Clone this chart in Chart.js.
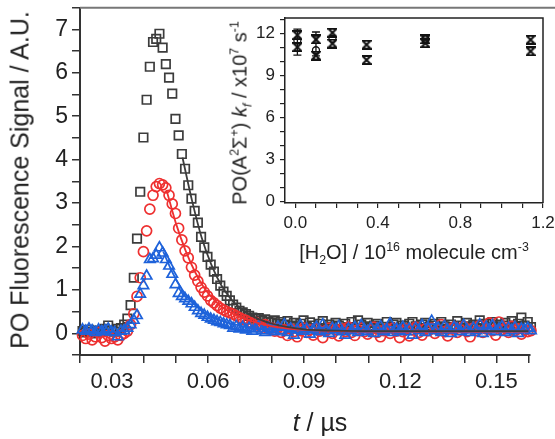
<!DOCTYPE html>
<html>
<head>
<meta charset="utf-8">
<script src="https://cdn.jsdelivr.net/npm/chart.js@4.4.1/dist/chart.umd.min.js"></script>
<style>
  html, body { margin: 0; padding: 0; background: #fff; }
  #wrap { position: relative; width: 555px; height: 439px; font-family: Arial, "Liberation Sans", sans-serif; color: #222; }
  #main { position: absolute; left: 0; top: 0; }
  #inset { position: absolute; left: 220px; top: 0; }
  .lbl { position: absolute; white-space: nowrap; transform: translate(-50%, -50%); }
  .rot { transform: translate(-50%, -50%) rotate(-90deg); }
  sup, sub { font-size: 62%; line-height: 0; }
</style>
</head>
<body>
<div id="wrap">
  <canvas id="main" width="555" height="439"></canvas>
  <canvas id="inset" width="335" height="270"></canvas>
  <div class="lbl rot" style="left:20px; top:180px; font-size:25px;">PO Fluorescence Signal / A.U.</div>
  <div class="lbl" style="left:320px; top:422px; font-size:25px;"><i>t</i> / µs</div>
  <div class="lbl" style="left:414px; top:252px; font-size:20px;">[H<sub>2</sub>O] / 10<sup>16</sup> molecule cm<sup>-3</sup></div>
  <div class="lbl rot" style="left:240px; top:113px; font-size:20px;">PO(A<sup>2</sup>Σ<sup>+</sup>) <i>k<sub>f</sub></i> / x10<sup>7</sup> s<sup>-1</sup></div>
</div>
<script>
// time axis (µs) shared by the three traces
const times = [
  0.0208, 0.0218, 0.0228, 0.0238, 0.0248, 0.0258, 0.0268, 0.0278, 0.0288, 0.0298,
  0.0308, 0.0318, 0.0328, 0.0338, 0.0348, 0.0358, 0.0368, 0.0378, 0.0388, 0.0398,
  0.0408, 0.0418, 0.0428, 0.0438, 0.0448, 0.0458, 0.0468, 0.0478, 0.0488, 0.0498,
  0.0508, 0.0518, 0.0528, 0.0538, 0.0548, 0.0558, 0.0568, 0.0578, 0.0588, 0.0598,
  0.0608, 0.0618, 0.0628, 0.0638, 0.0648, 0.0658, 0.0668, 0.0678, 0.0688, 0.0698,
  0.0708, 0.0718, 0.0728, 0.0738, 0.0748, 0.0758, 0.0768, 0.0778, 0.0788, 0.0798,
  0.0808, 0.0818, 0.0828, 0.0838, 0.0848, 0.0858, 0.0868, 0.0878, 0.0888, 0.0898,
  0.0908, 0.0918, 0.0928, 0.0938, 0.0948, 0.0958, 0.0968, 0.0978, 0.0988, 0.0998,
  0.1008, 0.1018, 0.1028, 0.1038, 0.1048, 0.1058, 0.1068, 0.1078, 0.1088, 0.1098,
  0.1108, 0.1118, 0.1128, 0.1138, 0.1148, 0.1158, 0.1168, 0.1178, 0.1188, 0.1198,
  0.1208, 0.1218, 0.1228, 0.1238, 0.1248, 0.1258, 0.1268, 0.1278, 0.1288, 0.1298,
  0.1308, 0.1318, 0.1328, 0.1338, 0.1348, 0.1358, 0.1368, 0.1378, 0.1388, 0.1398,
  0.1408, 0.1418, 0.1428, 0.1438, 0.1448, 0.1458, 0.1468, 0.1478, 0.1488, 0.1498,
  0.1508, 0.1518, 0.1528, 0.1538, 0.1548, 0.1558, 0.1568, 0.1578, 0.1588, 0.1598,
  0.1608
];

// black squares
const sigBlack = [
  0.05, 0.02, 0.08, 0.03, 0.00, 0.06, 0.04, 0.10, 0.18, 0.06,
  0.04, 0.10, 0.12, 0.20, 0.34, 0.65, 1.28, 2.18, 3.26, 4.51,
  5.38, 6.14, 6.71, 6.78, 6.90, 6.58, 6.20, 5.89, 5.52, 4.94,
  4.56, 4.13, 3.79, 3.41, 3.10, 2.82, 2.55, 2.22, 1.98, 1.76,
  1.58, 1.42, 1.25, 1.10, 0.96, 0.86, 0.76, 0.66, 0.59, 0.52,
  0.48, 0.44, 0.40, 0.36, 0.34, 0.35, 0.30, 0.32, 0.27, 0.25,
  0.30, 0.22, 0.26, 0.20, 0.28, 0.18, 0.24, 0.16, 0.22, 0.30,
  0.14, 0.25, 0.18, 0.12, 0.22, 0.28, 0.12, 0.20, 0.15, 0.24,
  0.18, 0.10, 0.22, 0.14, 0.26, 0.12, 0.30, 0.20, 0.16, 0.24,
  0.12, 0.18, 0.22, 0.10, 0.15, 0.26, 0.14, 0.20, 0.24, 0.12,
  0.18, 0.10, 0.22, 0.26, 0.16, 0.12, 0.20, 0.24, 0.14, 0.18,
  0.22, 0.12, 0.26, 0.16, 0.10, 0.20, 0.14, 0.28, 0.18, 0.12,
  0.24, 0.16, 0.20, 0.12, 0.30, 0.18, 0.22, 0.14, 0.26, 0.16,
  0.20, 0.12, 0.24, 0.18, 0.28, 0.14, 0.22, 0.36, 0.18, 0.26,
  0.14
];

// red circles
const sigRed = [
  -0.05, -0.12, -0.02, -0.15, -0.08, 0.02, -0.10, -0.18, -0.05, -0.12,
  -0.08, -0.15, -0.05, 0.00, 0.05, 0.20, 0.45, 0.85, 1.28, 1.88,
  2.36, 2.86, 3.18, 3.38, 3.45, 3.42, 3.35, 3.18, 2.98, 2.76,
  2.42, 2.15, 1.90, 1.74, 1.52, 1.34, 1.20, 1.06, 0.95, 0.86,
  0.76, 0.70, 0.64, 0.58, 0.54, 0.50, 0.47, 0.44, 0.40, 0.36,
  0.32, 0.30, 0.26, 0.22, 0.25, 0.18, 0.14, 0.20, 0.10, 0.12,
  0.05, 0.12, 0.02, 0.08, -0.05, 0.10, 0.04, -0.08, 0.06, 0.12,
  0.02, 0.08, -0.04, 0.10, 0.05, -0.10, 0.06, 0.12, 0.00, 0.08,
  -0.06, 0.10, 0.04, 0.14, 0.02, -0.05, 0.08, 0.12, 0.04, -0.02,
  0.08, 0.14, 0.02, -0.08, 0.06, 0.10, 0.00, 0.12, 0.05, -0.10,
  0.04, 0.10, -0.06, 0.08, 0.14, 0.02, -0.04, 0.10, 0.06, 0.12,
  0.00, 0.08, 0.20, 0.04, -0.06, 0.10, 0.14, 0.02, 0.08, 0.16,
  0.04, -0.08, 0.12, 0.06, 0.18, 0.02, 0.10, 0.24, 0.06, -0.04,
  0.26, 0.08, 0.12, 0.02, 0.16, 0.06, 0.10, -0.02, 0.08, 0.04,
  0.06
];

// blue triangles
const sigBlue = [
  0.08, 0.05, 0.10, 0.06, 0.02, 0.08, 0.04, 0.06, 0.10, 0.03,
  0.02, -0.08, 0.05, 0.06, 0.12, 0.20, 0.30, 0.41, 0.90, 1.10,
  1.32, 1.70, 1.72, 1.80, 1.97, 1.85, 1.70, 1.55, 1.36, 1.12,
  0.92, 0.85, 0.80, 0.74, 0.68, 0.60, 0.52, 0.46, 0.42, 0.37,
  0.33, 0.30, 0.27, 0.25, 0.22, 0.20, 0.18, 0.12, 0.16, 0.10,
  0.14, 0.08, 0.12, 0.05, 0.10, 0.16, 0.06, 0.02, 0.12, 0.08,
  0.04, 0.14, 0.06, 0.20, 0.02, 0.10, -0.04, 0.08, 0.18, 0.05,
  0.10, -0.02, 0.08, 0.14, 0.04, 0.20, 0.06, 0.00, 0.12, 0.08,
  0.16, 0.04, -0.04, 0.10, 0.06, 0.14, 0.02, 0.18, 0.08, 0.04,
  0.12, 0.00, 0.10, 0.16, 0.04, 0.08, 0.22, 0.02, 0.10, 0.06,
  0.14, 0.04, 0.10, -0.04, 0.12, 0.06, 0.18, 0.02, 0.10, 0.28,
  0.06, 0.12, 0.02, 0.16, 0.08, 0.00, 0.14, 0.10, 0.04, 0.18,
  0.08, 0.02, 0.12, 0.06, 0.20, 0.00, 0.14, 0.08, 0.18, 0.04,
  0.10, 0.16, 0.02, 0.12, 0.06, 0.14, 0.00, 0.10, 0.08, 0.12,
  0.06
];

// fitted decays
const fitBlackT = [0.052, 0.055, 0.058, 0.061, 0.064, 0.067, 0.070, 0.073, 0.076, 0.080, 0.085, 0.090, 0.095, 0.100, 0.110, 0.125, 0.140, 0.160];
const fitBlackV = [4.05, 3.05, 2.20, 1.58, 1.12, 0.80, 0.58, 0.43, 0.32, 0.22, 0.14, 0.09, 0.07, 0.06, 0.05, 0.05, 0.05, 0.05];
const fitRedT = [0.047, 0.050, 0.053, 0.056, 0.059, 0.062, 0.065, 0.068, 0.072, 0.076, 0.080, 0.085, 0.090, 0.100, 0.120, 0.160];
const fitRedV = [3.30, 2.52, 1.90, 1.40, 1.02, 0.76, 0.57, 0.44, 0.32, 0.23, 0.16, 0.11, 0.08, 0.05, 0.04, 0.04];
const fitBlueT = [0.046, 0.049, 0.052, 0.055, 0.058, 0.061, 0.064, 0.068, 0.072, 0.078, 0.085, 0.100, 0.160];
const fitBlueV = [1.88, 1.38, 1.00, 0.72, 0.52, 0.39, 0.30, 0.21, 0.15, 0.10, 0.07, 0.05, 0.04];

// inset: kf vs [H2O]
const kfX = [0.01, 0.01, 0.10, 0.10, 0.18, 0.18, 0.345, 0.345, 0.63, 0.63, 1.14, 1.14];
const kfY = [11.88, 11.02, 11.57, 10.42, 12.05, 11.28, 11.2, 10.1, 11.57, 11.3, 11.55, 10.72];
const kfOpenX = [0.01, 0.10, 0.18, 0.63];
const kfOpenY = [11.5, 10.8, 11.62, 11.58];
const errX = [0.01, 0.10];
const errLo = [10.45, 10.4];
const errHi = [12.3, 12.1];

const FONT = 'Arial, "Liberation Sans", sans-serif';
const pts = (xs, ys) => xs.map((x, i) => ({ x: x, y: ys[i] }));

// top (and optionally right) frame lines
const framePlugin = {
  id: 'frame',
  afterDraw(chart, args, opts) {
    const a = chart.chartArea, ctx = chart.ctx;
    ctx.save();
    ctx.strokeStyle = opts.color;
    ctx.lineWidth = opts.width;
    ctx.beginPath();
    ctx.moveTo(a.left, a.top);
    if (opts.right) {
      ctx.lineTo(a.right, a.top);
      ctx.lineTo(a.right, a.bottom);
    } else {
      ctx.lineTo(chart.width, a.top);
    }
    ctx.stroke();
    ctx.restore();
  }
};

// evenly spaced tick marks from start to stop
const tickRange = (start, stop, step) => scale => {
  const t = [];
  for (let v = start; v <= stop + step / 1000; v += step) t.push({ value: +v.toFixed(6) });
  scale.ticks = t;
};

// fixed axis box sizes so the plot area lands where the original has it
const fixH = h => s => { s.height = h; s.paddingLeft = 0; s.paddingRight = 0; };
const fixW = w => s => { s.width = w; s.paddingTop = 0; s.paddingBottom = 0; };

new Chart(document.getElementById('main'), {
  type: 'scatter',
  data: {
    datasets: [
      { data: pts(fitBlackT, fitBlackV), showLine: true, borderColor: '#3c3c3c', borderWidth: 1.8, pointRadius: 0, cubicInterpolationMode: 'monotone', order: 0 },
      { data: pts(fitRedT, fitRedV), showLine: true, borderColor: '#ee3030', borderWidth: 1.8, pointRadius: 0, cubicInterpolationMode: 'monotone', order: 0 },
      { data: pts(fitBlueT, fitBlueV), showLine: true, borderColor: '#1e62da', borderWidth: 1.8, pointRadius: 0, cubicInterpolationMode: 'monotone', order: 0 },
      { data: pts(times, sigBlue), pointStyle: 'triangle', pointRadius: 6, borderColor: '#1e62da', backgroundColor: 'rgba(0,0,0,0)', borderWidth: 1.7, order: 1 },
      { data: pts(times, sigRed), pointStyle: 'circle', pointRadius: 5, borderColor: '#ee3030', backgroundColor: 'rgba(0,0,0,0)', borderWidth: 1.7, order: 2 },
      { data: pts(times, sigBlack), pointStyle: 'rect', pointRadius: 6, borderColor: '#3c3c3c', backgroundColor: 'rgba(0,0,0,0)', borderWidth: 1.7, order: 3 }
    ]
  },
  options: {
    responsive: false,
    animation: false,
    events: [],
    clip: false,
    layout: { padding: { left: 0, top: 4, right: 25, bottom: 0 } },
    plugins: { legend: { display: false }, tooltip: { enabled: false }, frame: { color: '#777', width: 2, right: false } },
    scales: {
      x: {
        type: 'linear', min: 0.02, max: 0.1605,
        afterFit: fixH(84),
        afterBuildTicks: tickRange(0.02, 0.16, 0.01),
        grid: { drawOnChartArea: false, tickLength: 8, color: '#333', lineWidth: 1.5 },
        border: { color: '#333', width: 2 },
        ticks: {
          autoSkip: false, maxRotation: 0, padding: 6, color: '#222',
          font: { family: FONT, size: 22 },
          callback: v => (Math.round(v * 1000) % 30 === 0 ? v.toFixed(2) : '')
        }
      },
      y: {
        type: 'linear', min: -0.5, max: 7.5,
        afterFit: fixW(80),
        afterBuildTicks: tickRange(-0.5, 7.5, 0.5),
        grid: { drawOnChartArea: false, tickLength: 8, color: '#333', lineWidth: 1.5 },
        border: { color: '#333', width: 2 },
        ticks: {
          autoSkip: false, padding: 4, color: '#222',
          font: { family: FONT, size: 23 },
          callback: v => (Number.isInteger(v) ? String(v) : '')
        }
      }
    }
  },
  plugins: [framePlugin]
});

// hourglass marker for the inset
function hourglass(size) {
  const c = document.createElement('canvas');
  c.width = size; c.height = size;
  const g = c.getContext('2d');
  g.strokeStyle = '#111';
  g.lineWidth = 2;
  g.beginPath();
  g.moveTo(1, 1); g.lineTo(size - 1, 1);
  g.lineTo(1, size - 1); g.lineTo(size - 1, size - 1);
  g.closePath();
  g.stroke();
  return c;
}

const errorBars = {
  id: 'errorBars',
  afterDatasetsDraw(chart) {
    const ctx = chart.ctx, sx = chart.scales.x, sy = chart.scales.y;
    ctx.save();
    ctx.strokeStyle = '#111';
    ctx.lineWidth = 1.3;
    errX.forEach((x, i) => {
      const px = sx.getPixelForValue(x), y1 = sy.getPixelForValue(errLo[i]), y2 = sy.getPixelForValue(errHi[i]);
      ctx.beginPath();
      ctx.moveTo(px, y1); ctx.lineTo(px, y2);
      ctx.moveTo(px - 4, y1); ctx.lineTo(px + 4, y1);
      ctx.moveTo(px - 4, y2); ctx.lineTo(px + 4, y2);
      ctx.stroke();
    });
    ctx.restore();
  }
};

new Chart(document.getElementById('inset'), {
  type: 'scatter',
  data: {
    datasets: [
      { data: pts(kfX, kfY), pointStyle: hourglass(10), pointRadius: 5 },
      { data: pts(kfOpenX, kfOpenY), pointStyle: 'circle', pointRadius: 3.5, borderColor: '#111', backgroundColor: 'rgba(0,0,0,0)', borderWidth: 1.3 }
    ]
  },
  options: {
    responsive: false,
    animation: false,
    events: [],
    layout: { padding: { left: 0, top: 18, right: 12, bottom: 0 } },
    plugins: { legend: { display: false }, tooltip: { enabled: false }, frame: { color: '#222', width: 1.5, right: true } },
    scales: {
      x: {
        type: 'linear', min: -0.05, max: 1.2,
        afterFit: fixH(67),
        afterBuildTicks: tickRange(0, 1.2, 0.1),
        grid: { drawOnChartArea: false, tickLength: 5, color: '#222', lineWidth: 1.2 },
        border: { color: '#222', width: 1.5 },
        ticks: {
          autoSkip: false, maxRotation: 0, padding: 5, color: '#222',
          font: { family: FONT, size: 17 },
          callback: v => (Math.round(v * 10) % 4 === 0 ? v.toFixed(1) : '')
        }
      },
      y: {
        type: 'linear', min: -0.1, max: 13.1,
        afterFit: fixW(65),
        afterBuildTicks: tickRange(0, 13, 1),
        grid: { drawOnChartArea: false, tickLength: 5, color: '#222', lineWidth: 1.2 },
        border: { color: '#222', width: 1.5 },
        ticks: {
          autoSkip: false, padding: 5, color: '#222',
          font: { family: FONT, size: 17 },
          callback: v => (Math.round(v) % 3 === 0 ? String(Math.round(v)) : '')
        }
      }
    }
  },
  plugins: [framePlugin, errorBars]
});
</script>
</body>
</html>
